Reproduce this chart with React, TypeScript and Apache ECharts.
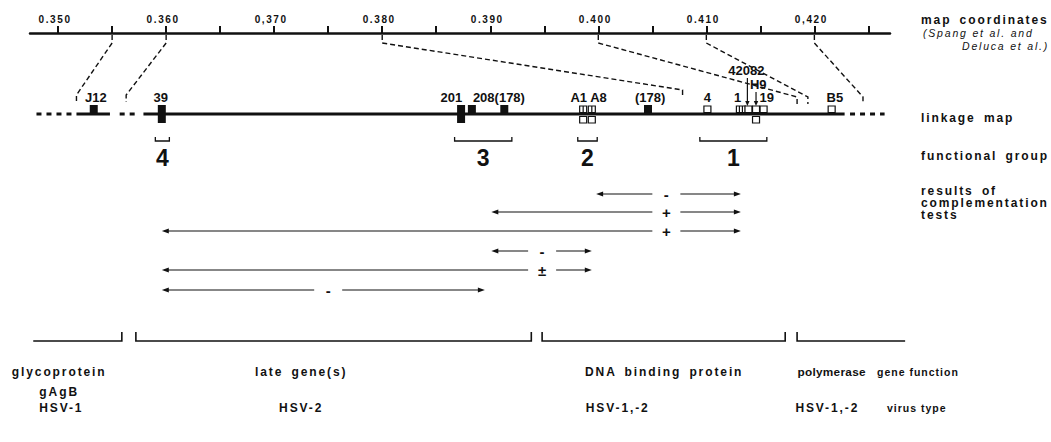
import React, { useEffect, useRef } from 'react';
import * as echarts from 'echarts';

// ---------- data ----------
const MAP_MIN = 0.3474;
const MAP_MAX = 0.427;
const MAP_TICKS = [0.35, 0.355, 0.36, 0.365, 0.37, 0.375, 0.38, 0.385, 0.39, 0.395, 0.4, 0.405, 0.41, 0.415, 0.42, 0.425];
const MAP_LABEL_VALUES = [0.35, 0.36, 0.37, 0.38, 0.39, 0.4, 0.41, 0.42];
const MAP_LABEL_TEXTS = ['0.350', '0.360', '0,370', '0.380', '0.390', '0.400', '0.410', '0,420'];

const LINKAGE_SOLID_FROM = [0.3517, 0.3579];
const LINKAGE_SOLID_TO = [0.3548, 0.4228];
const LINKAGE_DASH_FROM = [0.348, 0.3557, 0.4233];
const LINKAGE_DASH_TO = [0.3513, 0.3573, 0.4265];

const MARKER_POS = [0.3533, 0.3596, 0.3873, 0.3883, 0.3913, 0.3986, 0.3994, 0.4046, 0.4101, 0.4132, 0.4139, 0.4146, 0.4153, 0.4216];
const MARKER_KIND = ['filled', 'tall', 'tall', 'filled', 'filled', 'hatchedPair', 'hatchedPair', 'filled', 'open', 'hatched', 'open', 'openPair', 'open', 'open'];

const MUTANT_LABELS = ['J12', '39', '201', '208(178)', 'A1 A8', '(178)', '4', '1', '42082', 'H9', '19', 'B5'];
const MUTANT_LABEL_POS = [0.3535, 0.3595, 0.3864, 0.3908, 0.3991, 0.4048, 0.4101, 0.4129, 0.4137, 0.4148, 0.4156, 0.4219];
const MUTANT_LABEL_TIER = [0, 0, 0, 0, 0, 0, 0, 0, 2, 1, 0, 0];

const POINTER_POS = [0.4138, 0.4146];
const POINTER_TIER = [2, 1];

const CONNECTOR_MAP = [0.355, 0.36, 0.38, 0.4, 0.41, 0.42];
const CONNECTOR_LINKAGE = [0.3517, 0.3563, 0.4078, 0.4184, 0.4194, 0.4245];

const GROUP_NAMES = ['4', '3', '2', '1'];
const GROUP_FROM = [0.359, 0.3867, 0.3981, 0.4094];
const GROUP_TO = [0.3603, 0.392, 0.3999, 0.4156];

const COMP_LEFT = [0.3998, 0.3901, 0.3596, 0.3901, 0.3596, 0.3596];
const COMP_RIGHT = [0.4132, 0.4132, 0.4132, 0.3994, 0.3994, 0.3895];
const COMP_RESULT = ['-', '+', '+', '-', '±', '-'];
const COMP_RESULT_AT = [0.4063, 0.4063, 0.4063, 0.3948, 0.3948, 0.375];

const GENE_FROM = [0.3477, 0.3572, 0.3948, 0.4184];
const GENE_TO = [0.3559, 0.3938, 0.4173, 0.4284];
const GENE_FUNCTION = ['glycoprotein\ngAgB', 'late gene(s)', 'DNA binding protein', 'polymerase'];
const GENE_LABEL_AT = [0.3501, 0.3725, 0.4061, 0.4216];
const VIRUS_TYPE = ['HSV-1', 'HSV-2', 'HSV-1,-2', 'HSV-1,-2'];
const VIRUS_LABEL_AT = [0.3503, 0.3725, 0.4018, 0.4212];

// ---------- layout / style ----------
const INK = '#111';
const Y = {
  axis: 33,
  linkage: 114,
  tier: [97, 84, 70],
  groupBracket: 141,
  groupLabel: 158,
  compRows: [194, 212, 231, 251, 270, 290],
  geneBracket: 341,
  geneLabel: 382,
  virus: 408,
};
const CONNECTOR_HOOK_TOP = [95, 95, 90, 97, 97, 97];
const TRACK_FONT = 'bold 12px Liberation Sans';
const NARROW_FONT = 'bold 11.8px Liberation Sans';
const SMALL_FONT = 'bold 10.5px Liberation Sans';
const LABEL_FONT = 'bold 13px Liberation Sans';

const line = (x1: number, y1: number, x2: number, y2: number, w = 1.2, dash?: number[]) => ({
  type: 'line',
  shape: { x1, y1, x2, y2 },
  style: { stroke: INK, lineWidth: w, lineDash: dash, fill: null },
});
const rect = (x: number, y: number, w: number, h: number, fill: string, stroke?: string) => ({
  type: 'rect',
  shape: { x, y, width: w, height: h },
  style: { fill, stroke: stroke || null, lineWidth: stroke ? 1.2 : 0 },
});
const text = (t: string, x: number, y: number, font: string, align = 'center', lh?: number) => ({
  type: 'text',
  x,
  y,
  style: { text: t, font, fill: INK, textAlign: align, verticalAlign: 'middle', lineHeight: lh },
});

function custom(data: number[], render: (i: number, api: any) => any) {
  return {
    type: 'custom',
    xAxisIndex: 1,
    yAxisIndex: 1,
    clip: false,
    silent: true,
    data: data.map((v) => [v, 0]),
    renderItem: (params: any, api: any) => render(params.dataIndex, api),
  };
}

function buildOption() {
  const series: any[] = [];

  // linkage backbone
  series.push(
    custom(LINKAGE_SOLID_FROM, (i, api) => {
      const a = api.coord([LINKAGE_SOLID_FROM[i], Y.linkage]);
      const b = api.coord([LINKAGE_SOLID_TO[i], Y.linkage]);
      return line(a[0], a[1], b[0], b[1], 3);
    })
  );
  series.push(
    custom(LINKAGE_DASH_FROM, (i, api) => {
      const a = api.coord([LINKAGE_DASH_FROM[i], Y.linkage]);
      const b = api.coord([LINKAGE_DASH_TO[i], Y.linkage]);
      return line(a[0], a[1], b[0], b[1], 3, [5, 5]);
    })
  );

  // connectors between map coordinates and linkage map
  series.push(
    custom(CONNECTOR_MAP, (i, api) => {
      const t = api.coord([CONNECTOR_MAP[i], Y.axis + 2]);
      const b = api.coord([CONNECTOR_LINKAGE[i], CONNECTOR_HOOK_TOP[i]]);
      return {
        type: 'polyline',
        shape: { points: [[t[0], t[1]], [t[0], t[1] + 8], [b[0], b[1]], [b[0], b[1] + 7]] },
        style: { stroke: INK, lineWidth: 1.4, lineDash: [5, 3], fill: null },
      };
    })
  );

  // mutant markers
  series.push(
    custom(MARKER_POS, (i, api) => {
      const c = api.coord([MARKER_POS[i], Y.linkage]);
      const x = c[0];
      const y = c[1];
      const k = MARKER_KIND[i];
      const els: any[] = [];
      if (k === 'filled') els.push(rect(x - 4, y - 9, 8, 9, INK));
      if (k === 'tall') els.push(rect(x - 4, y - 9, 8, 18, INK));
      if (k === 'open' || k === 'openPair') els.push(rect(x - 3.5, y - 8, 7, 6.5, '#fff', INK));
      if (k === 'openPair' || k === 'hatchedPair') els.push(rect(x - 3.5, y + 2.5, 7, 6.5, '#fff', INK));
      if (k === 'hatchedPair') {
        els.push(rect(x - 3.5, y - 8, 7, 6.5, '#fff', INK));
        els.push(line(x, y - 8, x, y - 1.5, 1.2));
      }
      if (k === 'hatched') {
        els.push(rect(x - 4.5, y - 8, 9, 6.5, '#fff', INK));
        els.push(line(x - 1.5, y - 8, x - 1.5, y - 1.5, 1.2));
        els.push(line(x + 1.5, y - 8, x + 1.5, y - 1.5, 1.2));
      }
      return { type: 'group', children: els };
    })
  );

  // pointer arrows (42082, H9)
  series.push(
    custom(POINTER_POS, (i, api) => {
      const top = api.coord([POINTER_POS[i], Y.tier[POINTER_TIER[i]]]);
      const bot = api.coord([POINTER_POS[i], Y.linkage - 8]);
      const x = top[0];
      return {
        type: 'group',
        children: [
          line(x, top[1] + 8, x, bot[1] - 3, 1.2),
          { type: 'polygon', shape: { points: [[x - 2.2, bot[1] - 5], [x + 2.2, bot[1] - 5], [x, bot[1]]] }, style: { fill: INK } },
        ],
      };
    })
  );

  // mutant labels
  series.push(
    custom(MUTANT_LABEL_POS, (i, api) => {
      const c = api.coord([MUTANT_LABEL_POS[i], Y.tier[MUTANT_LABEL_TIER[i]]]);
      return text(MUTANT_LABELS[i], c[0], c[1], LABEL_FONT);
    })
  );

  // functional groups
  series.push(
    custom(GROUP_FROM, (i, api) => {
      const a = api.coord([GROUP_FROM[i], Y.groupBracket]);
      const b = api.coord([GROUP_TO[i], Y.groupBracket]);
      const m = (a[0] + b[0]) / 2;
      return {
        type: 'group',
        children: [
          {
            type: 'polyline',
            shape: { points: [[a[0], a[1] - 4], [a[0], a[1]], [b[0], b[1]], [b[0], b[1] - 4]] },
            style: { stroke: INK, lineWidth: 1.3, fill: null },
          },
          text(GROUP_NAMES[i], m, Y.groupLabel, 'bold 23px Liberation Sans'),
        ],
      };
    })
  );

  // complementation tests
  series.push(
    custom(COMP_LEFT, (i, api) => {
      const yy = Y.compRows[i];
      const l = api.coord([COMP_LEFT[i], yy]);
      const r = api.coord([COMP_RIGHT[i], yy]);
      const m = api.coord([COMP_RESULT_AT[i], yy]);
      const y = l[1];
      const gap = 14;
      return {
        type: 'group',
        children: [
          line(l[0] + 3, y, m[0] - gap, y, 1.2),
          line(m[0] + gap, y, r[0] - 3, y, 1.2),
          { type: 'polygon', shape: { points: [[l[0], y], [l[0] + 7, y - 2.5], [l[0] + 7, y + 2.5]] }, style: { fill: INK } },
          { type: 'polygon', shape: { points: [[r[0], y], [r[0] - 7, y - 2.5], [r[0] - 7, y + 2.5]] }, style: { fill: INK } },
          text(COMP_RESULT[i], m[0], y, 'bold 15px Liberation Sans'),
        ],
      };
    })
  );

  // gene function brackets + labels
  series.push(
    custom(GENE_FROM, (i, api) => {
      const a = api.coord([GENE_FROM[i], Y.geneBracket]);
      const b = api.coord([GENE_TO[i], Y.geneBracket]);
      const pts: number[][] = [];
      if (i > 0) pts.push([a[0], a[1] - 9]);
      pts.push([a[0], a[1]], [b[0], b[1]]);
      if (i < GENE_FROM.length - 1) pts.push([b[0], b[1] - 9]);
      const g = api.coord([GENE_LABEL_AT[i], Y.geneLabel]);
      const v = api.coord([VIRUS_LABEL_AT[i], Y.virus]);
      const multi = GENE_FUNCTION[i].indexOf('\n') >= 0;
      const last = i === GENE_FROM.length - 1;
      return {
        type: 'group',
        children: [
          { type: 'polyline', shape: { points: pts }, style: { stroke: INK, lineWidth: 1.6, fill: null } },
          text(GENE_FUNCTION[i], g[0], multi ? g[1] : g[1] - 10, last ? NARROW_FONT : TRACK_FONT, 'center', 20),
          text(VIRUS_TYPE[i], v[0], v[1], TRACK_FONT),
        ],
      };
    })
  );

  const side = (t: string, x: number, y: number, font = TRACK_FONT) => ({
    type: 'text',
    x,
    y,
    style: { text: t, font, fill: INK, textAlign: 'left', verticalAlign: 'middle' },
  });

  return {
    animation: false,
    backgroundColor: '#fff',
    grid: [
      { left: 30, width: 860, top: Y.axis, height: 60 },
      { left: 30, width: 860, top: 0, height: 442 },
    ],
    xAxis: [
      {
        gridIndex: 0,
        type: 'value',
        position: 'top',
        min: MAP_MIN,
        max: MAP_MAX,
        axisLine: { show: true, onZero: false, lineStyle: { color: INK, width: 2.5 } },
        axisTick: { show: true, customValues: MAP_TICKS, length: 7, inside: false, lineStyle: { color: INK, width: 2 } },
        axisLabel: {
          show: true,
          customValues: MAP_LABEL_VALUES,
          formatter: (v: number) => {
            const idx = MAP_LABEL_VALUES.findIndex((m) => Math.abs(m - v) < 1e-6);
            return idx >= 0 ? MAP_LABEL_TEXTS[idx] : '';
          },
          margin: 9,
          padding: [0, 6, 0, 0],
          color: INK,
          fontFamily: 'Liberation Sans',
          fontWeight: 'bold',
          fontSize: 10,
        },
        splitLine: { show: false },
      },
      { gridIndex: 1, type: 'value', min: MAP_MIN, max: MAP_MAX, show: false },
    ],
    yAxis: [
      { gridIndex: 0, type: 'value', show: false, min: 0, max: 1 },
      { gridIndex: 1, type: 'value', show: false, min: 0, max: 442, inverse: true },
    ],
    graphic: [
      side('map coordinates', 921, 20),
      side('(Spang et al. and', 923, 33, 'italic 10.5px Liberation Sans'),
      side('Deluca et al.)', 962, 46, 'italic 10.5px Liberation Sans'),
      side('linkage map', 921, 118),
      side('functional group', 921, 156),
      side('results of', 921, 191),
      side('complementation', 921, 203),
      side('tests', 921, 215),
      side('gene function', 877, 372, SMALL_FONT),
      side('virus type', 887, 408, SMALL_FONT),
    ],
    series,
  };
}

const CSS = `
.hsvmap text[style*="12px"]{letter-spacing:1.9px;word-spacing:3px}
.hsvmap text[style*="11.8px"]{letter-spacing:0.3px}
.hsvmap text[style*="10.5px"]{letter-spacing:1px}
.hsvmap text[style*="10px"]{letter-spacing:1.6px}
.hsvmap text[style*="italic"]{letter-spacing:1.8px}
`;

export default function App() {
  const ref = useRef<HTMLDivElement>(null);
  useEffect(() => {
    document.body.style.margin = '0';
    const chart = echarts.init(ref.current as HTMLDivElement, null, { renderer: 'svg' });
    chart.setOption(buildOption() as any);
    return () => chart.dispose();
  }, []);
  return (
    <div style={{ width: 1051, height: 442, background: '#fff' }}>
      <style>{CSS}</style>
      <div ref={ref} className="hsvmap" style={{ width: 1051, height: 442 }} />
    </div>
  );
}
